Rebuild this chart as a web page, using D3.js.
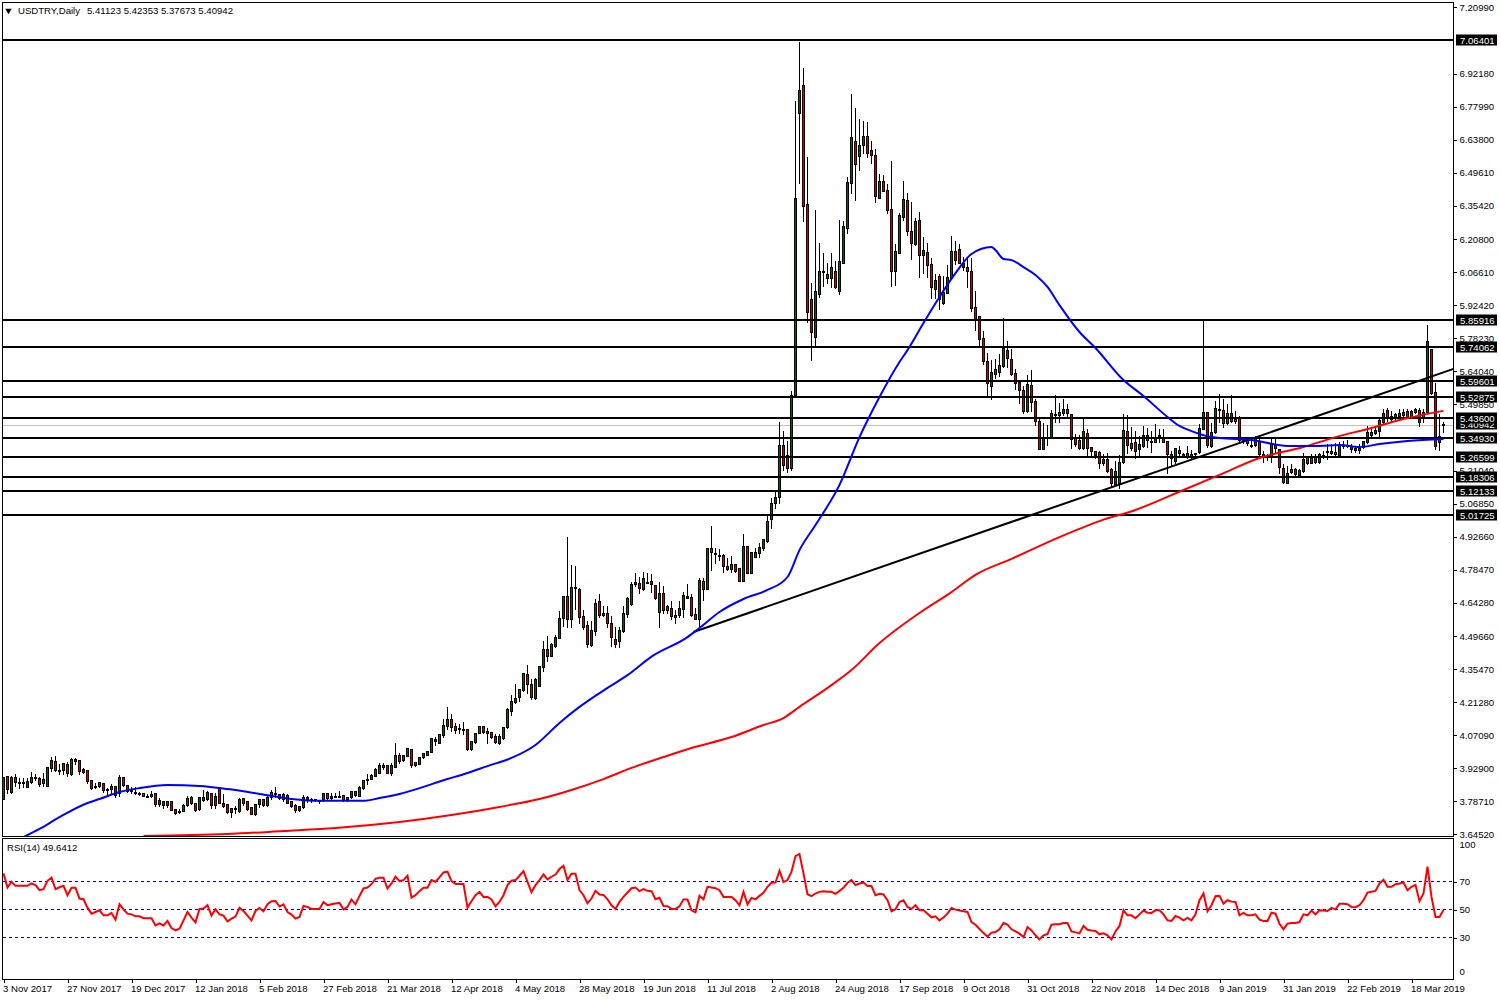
<!DOCTYPE html>
<html>
<head>
<meta charset="utf-8">
<script src="https://cdn.jsdelivr.net/npm/d3@7"></script>
<style>
body { margin: 0; background: #fff; }
text { font-family: "Liberation Sans", sans-serif; font-size: 9.6px; fill: #000; }
</style>
</head>
<body>
<script>
// candles, one row per daily bar: open, high, low, close
var candles = [
[3.798,3.895,3.798,3.892],[3.895,3.900,3.823,3.838],[3.826,3.900,3.823,3.891],[3.891,3.910,3.853,3.871],[3.868,3.891,3.842,3.868],[3.868,3.892,3.849,3.868],[3.849,3.892,3.848,3.872],[3.871,3.917,3.866,3.891],
[3.885,3.907,3.878,3.892],[3.888,3.895,3.853,3.862],[3.865,3.911,3.853,3.882],[3.853,3.936,3.853,3.934],[3.930,3.983,3.918,3.963],[3.960,3.986,3.918,3.920],[3.920,3.950,3.904,3.920],[3.922,3.957,3.904,3.951],
[3.945,3.961,3.894,3.910],[3.904,3.976,3.900,3.968],[3.960,3.976,3.945,3.967],[3.963,3.968,3.904,3.918],[3.924,3.933,3.907,3.912],[3.920,3.924,3.866,3.872],[3.878,3.878,3.841,3.844],[3.853,3.871,3.842,3.853],
[3.853,3.875,3.846,3.868],[3.864,3.871,3.826,3.835],[3.839,3.849,3.818,3.839],[3.838,3.864,3.820,3.851],[3.851,3.856,3.806,3.812],[3.820,3.902,3.810,3.891],[3.891,3.892,3.853,3.856],[3.856,3.856,3.828,3.832],
[3.835,3.853,3.823,3.835],[3.825,3.853,3.818,3.825],[3.822,3.832,3.815,3.822],[3.822,3.825,3.808,3.810],[3.810,3.820,3.807,3.810],[3.810,3.833,3.806,3.818],[3.822,3.822,3.767,3.775],[3.776,3.803,3.766,3.790],
[3.770,3.789,3.757,3.786],[3.769,3.790,3.760,3.787],[3.787,3.790,3.749,3.749],[3.753,3.756,3.731,3.736],[3.746,3.756,3.734,3.746],[3.746,3.777,3.744,3.770],[3.770,3.813,3.767,3.799],[3.805,3.813,3.773,3.777],
[3.780,3.785,3.746,3.749],[3.752,3.808,3.749,3.803],[3.792,3.839,3.787,3.803],[3.797,3.836,3.792,3.826],[3.822,3.826,3.757,3.769],[3.770,3.826,3.759,3.809],[3.849,3.852,3.777,3.777],[3.777,3.820,3.763,3.766],
[3.775,3.777,3.737,3.741],[3.741,3.763,3.720,3.757],[3.757,3.770,3.734,3.757],[3.744,3.803,3.741,3.795],[3.800,3.806,3.770,3.780],[3.786,3.792,3.749,3.754],[3.760,3.763,3.730,3.733],[3.730,3.777,3.729,3.775],
[3.775,3.799,3.760,3.795],[3.797,3.799,3.767,3.770],[3.770,3.816,3.767,3.806],[3.806,3.838,3.795,3.825],[3.822,3.852,3.806,3.822],[3.818,3.823,3.795,3.799],[3.796,3.828,3.789,3.816],[3.812,3.823,3.777,3.780],
[3.787,3.792,3.763,3.767],[3.769,3.777,3.740,3.747],[3.749,3.770,3.746,3.766],[3.763,3.816,3.759,3.805],[3.795,3.812,3.782,3.805],[3.795,3.806,3.785,3.795],[3.795,3.799,3.789,3.795],[3.790,3.797,3.780,3.790],
[3.792,3.820,3.789,3.820],[3.820,3.820,3.796,3.800],[3.800,3.828,3.795,3.809],[3.810,3.828,3.806,3.810],[3.810,3.835,3.806,3.810],[3.813,3.813,3.787,3.792],[3.795,3.809,3.789,3.803],[3.805,3.835,3.802,3.831],
[3.812,3.835,3.808,3.831],[3.809,3.856,3.809,3.849],[3.843,3.881,3.841,3.878],[3.878,3.907,3.861,3.882],[3.882,3.910,3.881,3.900],[3.897,3.933,3.895,3.927],[3.910,3.957,3.908,3.941],[3.935,3.957,3.924,3.941],
[3.941,3.947,3.907,3.910],[3.910,3.957,3.899,3.944],[3.935,4.040,3.933,3.984],[3.984,4.000,3.950,3.962],
[3.964,3.986,3.961,3.984],[3.981,4.019,3.980,4.014],[4.012,4.017,3.935,3.943],[3.954,3.957,3.940,3.943],[3.948,3.981,3.945,3.977],[3.976,3.999,3.971,3.996],[3.987,4.007,3.984,4.001],[4.000,4.058,3.997,4.058],
[4.046,4.068,4.029,4.055],[4.039,4.079,4.036,4.076],[4.073,4.147,4.065,4.115],[4.111,4.197,4.096,4.139],[4.141,4.165,4.089,4.108],[4.111,4.129,4.079,4.093],[4.103,4.122,4.079,4.103],[4.098,4.134,4.076,4.098],
[4.096,4.096,4.007,4.010],[4.010,4.050,4.007,4.046],[4.043,4.082,4.036,4.079],[4.082,4.115,4.079,4.111],[4.111,4.115,4.079,4.083],[4.088,4.108,4.036,4.082],[4.083,4.091,4.057,4.065],[4.068,4.082,4.039,4.042],
[4.039,4.079,4.033,4.068],[4.059,4.108,4.055,4.105],[4.105,4.194,4.101,4.184],[4.177,4.249,4.157,4.217],[4.214,4.295,4.211,4.231],[4.237,4.276,4.218,4.270],[4.266,4.345,4.261,4.339],[4.335,4.376,4.251,4.290],
[4.292,4.316,4.226,4.236],[4.233,4.323,4.227,4.313],[4.285,4.374,4.285,4.371],[4.366,4.481,4.349,4.441],[4.441,4.501,4.392,4.412],[4.414,4.473,4.412,4.463],[4.457,4.507,4.453,4.493],[4.491,4.611,4.490,4.576],
[4.575,4.675,4.542,4.671],[4.671,4.930,4.539,4.573],[4.573,4.809,4.539,4.708],[4.708,4.805,4.614,4.708],[4.700,4.711,4.553,4.582],[4.583,4.614,4.530,4.539],[4.545,4.568,4.450,4.463],[4.460,4.568,4.455,4.524],
[4.522,4.661,4.503,4.639],[4.648,4.683,4.579,4.591],[4.596,4.634,4.586,4.591],[4.596,4.632,4.539,4.556],[4.556,4.589,4.455,4.493],[4.484,4.543,4.450,4.464],[4.479,4.542,4.453,4.524],[4.520,4.634,4.517,4.598],
[4.595,4.671,4.582,4.661],[4.637,4.736,4.632,4.723],[4.724,4.773,4.714,4.730],[4.726,4.757,4.685,4.706],[4.703,4.779,4.697,4.747],[4.733,4.773,4.726,4.733],[4.734,4.769,4.690,4.723],[4.718,4.723,4.657,4.662],
[4.603,4.737,4.539,4.682],[4.682,4.717,4.599,4.611],[4.611,4.636,4.596,4.628],[4.618,4.654,4.573,4.585],[4.589,4.614,4.553,4.580],[4.588,4.654,4.582,4.619],[4.616,4.694,4.582,4.674],[4.671,4.726,4.661,4.664],
[4.665,4.682,4.585,4.589],[4.592,4.625,4.570,4.573],[4.573,4.751,4.532,4.739],[4.734,4.751,4.654,4.703],[4.703,4.881,4.700,4.878],[4.878,4.977,4.783,4.862],[4.855,4.881,4.812,4.855],[4.848,4.876,4.826,4.848],
[4.846,4.855,4.773,4.802],[4.799,4.841,4.783,4.789],[4.789,4.848,4.776,4.807],[4.807,4.815,4.776,4.780],[4.790,4.790,4.737,4.737],[4.737,4.941,4.737,4.887],[4.887,4.887,4.772,4.772],[4.772,4.859,4.769,4.859],
[4.841,4.884,4.838,4.859],[4.855,4.905,4.838,4.881],[4.876,4.920,4.869,4.915],[4.910,5.027,4.905,4.993],
[5.001,5.098,4.964,5.072],[5.072,5.128,5.050,5.098],[5.098,5.425,5.072,5.322],[5.322,5.387,5.214,5.236],[5.279,5.344,5.206,5.223],[5.223,5.559,5.214,5.537],[5.537,6.809,5.533,6.387],[6.753,7.064,6.451,6.852],
[6.874,6.951,6.287,6.352],[6.361,6.568,5.852,5.895],[5.951,6.025,5.688,5.809],[5.787,6.339,5.744,5.986],[5.973,6.197,5.960,6.072],[6.072,6.154,6.007,6.072],[6.059,6.111,6.020,6.042],[6.042,6.154,6.003,6.089],
[6.072,6.119,5.999,6.003],[5.986,6.296,5.973,6.115],[6.106,6.292,6.106,6.266],[6.257,6.481,6.236,6.456],[6.451,6.839,6.408,6.650],[6.632,6.779,6.378,6.533],[6.568,6.731,6.507,6.615],[6.615,6.723,6.581,6.654],
[6.654,6.718,6.563,6.581],[6.594,6.637,6.537,6.572],[6.572,6.602,6.369,6.395],[6.387,6.494,6.387,6.460],[6.460,6.490,6.417,6.417],[6.421,6.451,6.322,6.335],[6.339,6.550,6.007,6.072],[6.072,6.193,6.012,6.158],
[6.150,6.326,6.150,6.313],[6.305,6.464,6.292,6.382],[6.378,6.412,6.227,6.244],[6.244,6.374,6.124,6.193],[6.188,6.305,6.184,6.287],[6.292,6.331,6.046,6.141],[6.141,6.223,6.063,6.163],[6.154,6.197,6.046,6.098],
[6.102,6.132,5.955,6.003],[5.994,6.063,5.955,6.033],[6.050,6.063,5.908,5.951],[5.934,6.055,5.930,5.981],[5.977,6.102,5.977,6.046],[6.042,6.227,6.037,6.158],[6.158,6.206,6.102,6.119],[6.167,6.193,6.106,6.106],
[6.089,6.137,6.076,6.106],[6.089,6.132,6.003,6.072],[6.072,6.132,5.900,5.912],[5.917,5.990,5.818,5.861],[5.878,5.882,5.749,5.779],[5.783,5.818,5.671,5.684],[5.684,5.723,5.533,5.589],[5.576,5.693,5.520,5.637],
[5.628,5.697,5.611,5.650],[5.637,5.719,5.619,5.667],[5.662,5.874,5.658,5.740],[5.731,5.775,5.658,5.697],[5.693,5.740,5.624,5.628],[5.632,5.654,5.563,5.589],[5.593,5.598,5.503,5.559],[5.559,5.580,5.460,5.468],
[5.468,5.628,5.464,5.585],[5.580,5.650,5.468,5.507],[5.512,5.525,5.408,5.425],[5.425,5.443,5.305,5.305],[5.305,5.421,5.305,5.356],[5.356,5.412,5.322,5.356],[5.356,5.477,5.352,5.460],[5.456,5.542,5.421,5.456],
[5.451,5.507,5.421,5.464],[5.460,5.525,5.451,5.477],[5.477,5.503,5.447,5.460],[5.456,5.460,5.309,5.348],[5.352,5.374,5.318,5.326],[5.344,5.369,5.305,5.309],[5.309,5.438,5.305,5.382],[5.374,5.395,5.270,5.309],
[5.313,5.318,5.279,5.296],[5.296,5.300,5.266,5.279],[5.292,5.300,5.223,5.244],[5.244,5.287,5.236,5.262],[5.262,5.292,5.206,5.210],[5.219,5.227,5.141,5.158],[5.154,5.257,5.150,5.210],[5.158,5.283,5.137,5.249],
[5.249,5.460,5.244,5.387],[5.382,5.456,5.287,5.322],[5.309,5.404,5.300,5.331],[5.335,5.387,5.266,5.296],[5.305,5.365,5.270,5.326],[5.318,5.408,5.313,5.365],[5.365,5.399,5.313,5.344],[5.339,5.387,5.292,5.335],
[5.335,5.417,5.335,5.356],[5.365,5.395,5.335,5.361],[5.356,5.395,5.335,5.335],[5.339,5.339,5.201,5.283],[5.266,5.300,5.232,5.283],[5.253,5.313,5.244,5.309],[5.287,5.322,5.279,5.300],[5.275,5.292,5.270,5.283],
[5.270,5.322,5.266,5.287],[5.270,5.305,5.262,5.283],[5.287,5.292,5.270,5.287],[5.292,5.417,5.287,5.395],[5.391,5.859,5.391,5.464],[5.464,5.464,5.313,5.322],[5.318,5.421,5.313,5.378],[5.378,5.516,5.374,5.481],
[5.477,5.546,5.421,5.477],[5.473,5.525,5.400,5.417],[5.417,5.503,5.412,5.460],[5.460,5.542,5.421,5.425],[5.443,5.473,5.417,5.425],[5.443,5.451,5.335,5.344],[5.344,5.361,5.331,5.344],[5.352,5.361,5.322,5.331],
[5.322,5.344,5.313,5.322],[5.322,5.365,5.318,5.352],[5.339,5.352,5.270,5.283],[5.283,5.300,5.249,5.270],[5.275,5.287,5.257,5.275],[5.275,5.352,5.249,5.326],[5.322,5.361,5.292,5.309],[5.305,5.309,5.201,5.227],
[5.223,5.244,5.158,5.163],[5.158,5.236,5.158,5.201],[5.206,5.244,5.201,5.219],[5.219,5.227,5.188,5.197],[5.193,5.223,5.188,5.214],[5.210,5.292,5.206,5.262],[5.270,5.279,5.240,5.244],[5.244,5.287,5.244,5.275],
[5.275,5.287,5.244,5.249],[5.249,5.292,5.244,5.283],[5.279,5.300,5.266,5.279],[5.296,5.331,5.262,5.296],[5.287,5.331,5.283,5.296],[5.292,5.335,5.279,5.283],[5.279,5.339,5.275,5.322],[5.322,5.344,5.309,5.322],
[5.322,5.348,5.313,5.322],[5.305,5.331,5.292,5.318],[5.309,5.322,5.292,5.300],[5.300,5.331,5.287,5.309],[5.313,5.344,5.309,5.339],[5.335,5.408,5.331,5.378],[5.365,5.399,5.361,5.378],[5.374,5.404,5.369,5.387],
[5.382,5.443,5.361,5.430],[5.421,5.481,5.417,5.460],[5.473,5.486,5.425,5.438],[5.447,5.473,5.425,5.434],[5.438,5.464,5.434,5.456],[5.447,5.481,5.443,5.460],[5.451,5.481,5.447,5.464],[5.468,5.481,5.438,5.443],
[5.438,5.477,5.438,5.468],[5.464,5.486,5.460,5.477],[5.473,5.486,5.404,5.421],[5.464,5.481,5.421,5.443],[5.464,5.843,5.464,5.770],[5.736,5.740,5.542,5.546],[5.550,5.593,5.305,5.318],[5.335,5.460,5.300,5.361],
[5.41123,5.42353,5.37673,5.40942]
];

// moving averages, [bar, price] read at the bends
var blueMa = [[5,3.632],[9,3.667],[14,3.718],[21,3.779],[24,3.796],[29,3.826],[34,3.843],[41,3.856],[49,3.852],[56,3.839],[64,3.818],[72,3.796],[79,3.788],[90,3.788],[94,3.800],[99,3.818],
[111,3.882],[116,3.908],[121,3.938],[127,3.973],[133,4.029],[139,4.124],[144,4.193],[151,4.275],[156,4.330],[162,4.410],[171,4.494],[174,4.533],[179,4.602],[185,4.658],[191,4.697],[196,4.753],[199,4.869],
[203,4.977],[209,5.150],[214,5.356],[219,5.529],[224,5.680],[226,5.731],[230,5.848],[234,5.960],[238,6.063],[242,6.145],[247,6.175],[248,6.162],[250,6.124],[252,6.119],[255,6.089],[258,6.055],[261,6.003],[264,5.925],
[269,5.809],[273,5.740],[280,5.602],[285,5.533],[291,5.443],[294,5.404],[297,5.382],[302,5.356],[304,5.352],[312,5.344],[321,5.318],[329,5.318],[334,5.322],[339,5.313],[344,5.326],[351,5.339],[360,5.348]];
var redMa = [[35,3.637],[56,3.645],[70,3.658],[83,3.671],[99,3.697],[112,3.727],[124,3.762],[134,3.796],[142,3.835],[150,3.882],[157,3.930],[165,3.977],[172,4.016],[182,4.063],[190,4.115],[195,4.145],[199,4.193],
[207,4.287],[212,4.352],[219,4.468],[229,4.598],[237,4.688],[243,4.762],[252,4.831],[264,4.925],[274,4.994],[283,5.042],[295,5.128],[304,5.193],[314,5.266],[325,5.313],[333,5.356],[342,5.395],[351,5.438],[360,5.469]];

// RSI(14), one value per bar
var rsiValues = [
75.9,65.8,69.9,67,67,67,67,68.7,67.5,63.9,64.6,70.6,72.8,64.6,66,67,60.3,65.6,65.6,57.9,57.4,51.4,47.1,48.3,49.5,45.9,45.9,47.6,42.8,53.8,50.2,47.1,46.6,45.2,45.2,43.8,43.8,43.8,38.7,40.2,
38.7,41.9,36.8,35.1,36.3,42.3,48.3,44.3,40.9,50.5,50.7,53.1,45.7,50.2,46.6,45.7,41.6,43.5,45,51.2,49,45.7,42.3,49,51.2,48.8,53.8,56,56.2,52.2,53.8,48.3,46.4,43.5,44.7,52.6,51.9,50.5,50.5,50.5,
55.5,53.1,53.8,54.3,54.8,50.2,51.9,57.2,53.8,59.8,65.1,65.8,68.2,72,72.8,72.8,65.1,68.7,73.5,70.4,71.1,74.2,58.6,60.3,63.2,65.6,65.6,71.1,69.9,73,76.6,77.1,70.4,68.4,68.4,68.4,51.4,56,60.3,62.7,
59.1,59.1,57.2,52.4,55.5,60.3,67.5,70.6,71.1,74.2,77.5,69.9,62.5,67.5,71.1,75.1,71.6,73.5,75.1,79,81.4,71.1,75.6,75.6,63.9,60.3,54.6,57.9,63.4,60.8,60.5,57.4,53.1,50.5,55.5,59.1,62.2,65.3,65.8,63.2,
64.6,63.4,63.2,57.4,58.4,52.6,52.4,50.5,50.5,52.4,57.2,57.2,49.5,48.1,59.8,57.4,66.3,65.8,65.3,63.9,59.1,59.1,59.1,56.7,53.1,62.7,53.8,58.4,57.4,59.8,62,66.3,69.2,69.4,77.8,69.6,71.1,77.1,88.3,89.8,
75.9,61,59.6,61.5,62.7,63.2,62.7,62.7,61.3,63.4,65.6,69.2,71.1,67.5,68.7,69.4,66.8,66.8,60.3,61.3,60.8,56.7,48.8,50.2,55.5,56.7,51.9,50.5,53.1,49.5,49.5,47.1,44.5,45.2,42.3,44.3,47.1,51.2,50,49.3,
48.8,48.3,41.1,39.2,36.1,33.2,30.6,33.5,34,35.9,40.4,39.2,35.9,34.4,32.8,30.4,37.5,35.1,31.6,28.7,31.6,32.5,39.2,39.5,39.5,40.4,40.4,34.4,33.7,33,38.3,35.6,35.1,34.7,32.3,33,31.6,28.7,34.4,38.3,
49.5,45.9,45.9,43.8,46.6,49.3,47.8,47.6,49.5,49.5,46.6,42.3,41.9,45.4,44.3,42.3,44,42.3,46.6,56.7,61.5,48.8,53.1,59.6,59.8,54.3,56.7,55.7,55.5,45.9,47.6,45.9,45.9,46.6,42.8,41.9,41.9,47.8,47.1,39.9,
35.9,39.9,40.4,40.4,41.1,46.6,45.9,49.3,46.6,49.5,49.3,49,51.2,50.2,54.1,54.1,53.8,51.9,51.7,53.1,56.7,62.2,62.7,63.4,68.7,71.3,66.3,66.3,68.2,68.7,69.4,63.9,66.3,67.7,56,61.5,80.7,59.1,44.7,44.7,
49.6412
];

var levels = [7.06401, 5.85916, 5.74062, 5.59601, 5.52875, 5.436, 5.3493, 5.26599, 5.18306, 5.12133, 5.01725];
var lastPrice = 5.40942;
var trendline = [[172.5, 4.516], [362.5, 5.650]];
var priceTicks = [7.2099, 6.9218, 6.7799, 6.638, 6.4961, 6.3542, 6.208, 6.0661, 5.9242, 5.7823, 5.6404, 5.4985, 5.2104, 5.0685, 4.9266, 4.7847, 4.6428, 4.4966, 4.3547, 4.2128, 4.0709, 3.929, 3.7871, 3.6452];
var rsiTicks = [100, 70, 50, 30, 0];
var rsiGuides = [70, 50, 30];
var dateLabels = ["3 Nov 2017", "27 Nov 2017", "19 Dec 2017", "12 Jan 2018", "5 Feb 2018", "27 Feb 2018", "21 Mar 2018", "12 Apr 2018", "4 May 2018", "28 May 2018", "19 Jun 2018", "11 Jul 2018", "2 Aug 2018", "24 Aug 2018", "17 Sep 2018", "9 Oct 2018", "31 Oct 2018", "22 Nov 2018", "14 Dec 2018", "9 Jan 2019", "31 Jan 2019", "22 Feb 2019", "18 Mar 2019"];

var width = 1500, height = 1000;
var plotLeft = 2.5, plotRight = 1453.5, mainTop = 2.5, mainBottom = 836.5, rsiTop = 838.5, rsiBottom = 979.5;

var svg = d3.select("body").append("svg")
    .attr("width", width)
    .attr("height", height)
    .style("display", "block");

var x = d3.scaleLinear().domain([0, 360]).range([3.5, 1443.5]);
var y = d3.scaleLinear().domain([3.6452, 7.2099]).range([834, 7]);
var yRsi = d3.scaleLinear().domain([0, 100]).range([979.5, 839.7]);

svg.append("defs").append("clipPath").attr("id", "mainClip")
    .append("rect")
    .attr("x", plotLeft).attr("y", mainTop)
    .attr("width", plotRight - plotLeft).attr("height", mainBottom - mainTop);

function snap(v) { return Math.round(v) + 0.5; }

var main = svg.append("g").attr("clip-path", "url(#mainClip)");

// current price line sits under everything
main.append("line")
    .attr("x1", plotLeft).attr("x2", plotRight)
    .attr("y1", snap(y(lastPrice))).attr("y2", snap(y(lastPrice)))
    .attr("stroke", "#c0c0c0");

var bars = main.append("g").attr("shape-rendering", "crispEdges")
    .selectAll("g").data(candles).join("g");

bars.append("line")
    .attr("x1", function(d, i) { return x(i); })
    .attr("x2", function(d, i) { return x(i); })
    .attr("y1", function(d) { return snap(y(d[1])); })
    .attr("y2", function(d) { return snap(y(d[2])); })
    .attr("stroke", "#000");

bars.append("rect")
    .attr("x", function(d, i) { return x(i) - 1; })
    .attr("width", 2)
    .attr("y", function(d) { return snap(y(Math.max(d[0], d[3]))); })
    .attr("height", function(d) { return Math.max(1, snap(y(Math.min(d[0], d[3]))) - snap(y(Math.max(d[0], d[3])))); })
    .attr("fill", function(d) { return d[3] > d[0] ? "#006400" : d[3] < d[0] ? "#d00000" : "#000"; })
    .attr("stroke", "#000");

var maLine = d3.line()
    .x(function(d) { return x(d[0]); })
    .y(function(d) { return y(d[1]); })
    .curve(d3.curveMonotoneX);

// levels and trendline
main.selectAll("line.level").data(levels).join("line")
    .attr("class", "level")
    .attr("x1", plotLeft).attr("x2", plotRight)
    .attr("y1", function(d) { return Math.floor(y(d)); })
    .attr("y2", function(d) { return Math.floor(y(d)); })
    .attr("stroke", "#000").attr("stroke-width", 2)
    .attr("shape-rendering", "crispEdges");

main.append("path").datum(trendline)
    .attr("d", d3.line().x(function(d) { return x(d[0]); }).y(function(d) { return y(d[1]); }))
    .attr("fill", "none").attr("stroke", "#000").attr("stroke-width", 2);

main.append("path").datum(redMa)
    .attr("d", maLine).attr("fill", "none").attr("stroke", "#ff0000").attr("stroke-width", 2);
main.append("path").datum(blueMa)
    .attr("d", maLine).attr("fill", "none").attr("stroke", "#0000ff").attr("stroke-width", 2);

// rsi pane
svg.selectAll("line.guide").data(rsiGuides).join("line")
    .attr("class", "guide")
    .attr("x1", plotLeft).attr("x2", plotRight)
    .attr("y1", function(d) { return Math.floor(yRsi(d)) + 0.5; })
    .attr("y2", function(d) { return Math.floor(yRsi(d)) + 0.5; })
    .attr("stroke", "#0000c8")
    .attr("stroke-dasharray", "3,3")
    .attr("shape-rendering", "crispEdges");

svg.append("path").datum(rsiValues)
    .attr("d", d3.line().x(function(d, i) { return x(i); }).y(function(d) { return yRsi(d); }))
    .attr("fill", "none").attr("stroke", "#ff0000").attr("stroke-width", 2);

// frames
[[mainTop, mainBottom], [rsiTop, rsiBottom]].forEach(function(f) {
    svg.append("rect")
        .attr("x", plotLeft).attr("y", f[0])
        .attr("width", plotRight - plotLeft).attr("height", f[1] - f[0])
        .attr("fill", "none").attr("stroke", "#000")
        .attr("shape-rendering", "crispEdges");
});

// axes
var priceAxis = svg.append("g")
    .attr("transform", "translate(" + plotRight + ",0)")
    .call(d3.axisRight(y).tickValues(priceTicks).tickSize(3).tickPadding(3).tickFormat(d3.format(".5f")));
priceAxis.select(".domain").remove();

var rsiAxis = svg.append("g")
    .attr("transform", "translate(" + plotRight + ",0)")
    .call(d3.axisRight(yRsi).tickValues(rsiTicks).tickSize(3).tickPadding(3).tickFormat(d3.format("d")));
rsiAxis.select(".domain").remove();
// top and bottom labels are pushed inside the pane
rsiAxis.selectAll(".tick").filter(function(d) { return d == 100; }).select("text").attr("dy", "0.8em");
rsiAxis.selectAll(".tick").filter(function(d) { return d == 0; }).select("text").attr("dy", "-0.5em");
rsiAxis.selectAll(".tick").filter(function(d) { return d == 100 || d == 0; }).select("line").remove();

var timeAxis = svg.append("g")
    .attr("transform", "translate(0," + rsiBottom + ")")
    .call(d3.axisBottom(x).tickValues(d3.range(0, 361, 16)).tickSize(3).tickPadding(3)
        .tickFormat(function(d, i) { return dateLabels[i]; }));
timeAxis.select(".domain").remove();
timeAxis.selectAll("text").attr("text-anchor", "start").attr("dx", "-1");

svg.selectAll(".tick line").attr("shape-rendering", "crispEdges");
svg.selectAll(".tick text").style("font-family", '"Liberation Sans", sans-serif').style("font-size", "9.6px");

// boxed level labels, the last price tag stays under the others
var tags = svg.selectAll("g.tag").data([lastPrice].concat(levels)).join("g")
    .attr("class", "tag")
    .attr("transform", function(d) { return "translate(0," + Math.floor(y(d)) + ")"; });
tags.append("rect")
    .attr("x", 1456).attr("y", -5.5).attr("width", 41).attr("height", 11)
    .attr("fill", "#000");
tags.append("text")
    .attr("x", 1460).attr("y", 3.5)
    .style("fill", "#fff")
    .text(d3.format(".5f"));

// header texts
svg.append("path")
    .attr("d", d3.symbol().type(d3.symbolTriangle).size(18))
    .attr("transform", "translate(8.5,10.5) rotate(180)")
    .attr("fill", "#000");
svg.append("text")
    .attr("x", 18).attr("y", 14)
    .text("USDTRY,Daily");
svg.append("text")
    .attr("x", 87).attr("y", 14)
    .text("5.41123 5.42353 5.37673 5.40942");
svg.append("text")
    .attr("x", 7).attr("y", 851)
    .text("RSI(14) 49.6412");
</script>
</body>
</html>
